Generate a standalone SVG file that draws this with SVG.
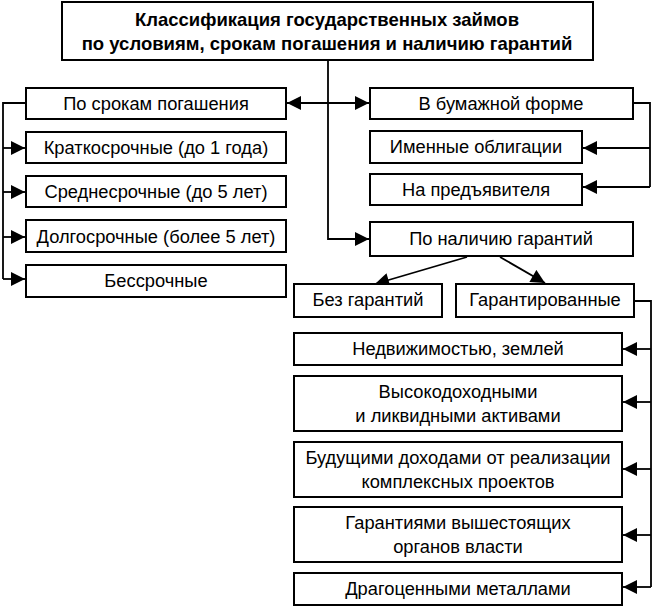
<svg xmlns="http://www.w3.org/2000/svg" width="653" height="607" viewBox="0 0 653 607">
<defs>
<style>
.box{fill:#fff;stroke:#000;stroke-width:2}
.t{font-family:"Liberation Sans",Arial,sans-serif;font-size:18.3px;fill:#000;text-anchor:middle}
.tb{font-family:"Liberation Sans",Arial,sans-serif;font-size:18.5px;font-weight:bold;fill:#000;text-anchor:middle}
.ln{fill:none;stroke:#000;stroke-width:1.8}
</style>
<marker id="ah" viewBox="0 0 10 10" refX="10" refY="5" markerWidth="15" markerHeight="14" markerUnits="userSpaceOnUse" orient="auto-start-reverse">
<path d="M0,0 L10,5 L0,10 z" fill="#000"/>
</marker>
</defs>
<rect width="653" height="607" fill="#fff"/>
<g id="connectors">
<path class="ln" d="M328,60 V239 H369" marker-end="url(#ah)"/>
<path class="ln" d="M287,103 H369" marker-start="url(#ah)" marker-end="url(#ah)"/>
<path class="ln" d="M26,103 H3 V279"/>
<path class="ln" d="M3,148 H25" marker-end="url(#ah)"/>
<path class="ln" d="M3,192 H25" marker-end="url(#ah)"/>
<path class="ln" d="M3,237 H25" marker-end="url(#ah)"/>
<path class="ln" d="M3,279 H25" marker-end="url(#ah)"/>
<path class="ln" d="M633,103 H650 V187"/>
<path class="ln" d="M650,148 H583" marker-end="url(#ah)"/>
<path class="ln" d="M650,187 H583" marker-end="url(#ah)"/>
<path class="ln" d="M467,257 L375,284" marker-end="url(#ah)"/>
<path class="ln" d="M500,257 L545,283" marker-end="url(#ah)"/>
<path class="ln" d="M634,301 H651 V587"/>
<path class="ln" d="M651,349 H623" marker-end="url(#ah)"/>
<path class="ln" d="M651,402 H623" marker-end="url(#ah)"/>
<path class="ln" d="M651,469 H623" marker-end="url(#ah)"/>
<path class="ln" d="M651,535 H623" marker-end="url(#ah)"/>
<path class="ln" d="M651,587 H623" marker-end="url(#ah)"/>
</g>
<g id="title"><rect class="box" x="62" y="2" width="531" height="58"/>
<text class="tb" x="327" y="26">Классификация государственных займов</text>
<text class="tb" x="327" y="50">по условиям, срокам погашения и наличию гарантий</text></g>
<g id="term"><rect class="box" x="26" y="88" width="260" height="31"/><text class="t" x="156" y="110">По срокам погашения</text></g>
<g id="short"><rect class="box" x="26" y="132" width="260" height="31"/><text class="t" x="156" y="154">Краткосрочные (до 1 года)</text></g>
<g id="mid"><rect class="box" x="26" y="176" width="260" height="31"/><text class="t" x="156" y="198">Среднесрочные (до 5 лет)</text></g>
<g id="long"><rect class="box" x="26" y="220" width="260" height="32"/><text class="t" x="156" y="243">Долгосрочные (более 5 лет)</text></g>
<g id="perp"><rect class="box" x="26" y="265" width="260" height="32"/><text class="t" x="156" y="287">Бессрочные</text></g>
<g id="paper"><rect class="box" x="370" y="88" width="263" height="31"/><text class="t" x="501" y="110">В бумажной форме</text></g>
<g id="named"><rect class="box" x="370" y="131" width="212" height="32"/><text class="t" x="476" y="153">Именные облигации</text></g>
<g id="bearer"><rect class="box" x="370" y="174" width="212" height="31"/><text class="t" x="476" y="196">На предъявителя</text></g>
<g id="guar"><rect class="box" x="370" y="222" width="263" height="34"/><text class="t" x="501" y="245">По наличию гарантий</text></g>
<g id="noguar"><rect class="box" x="294" y="284" width="148" height="33"/><text class="t" x="368" y="306">Без гарантий</text></g>
<g id="guaranteed"><rect class="box" x="456" y="284" width="178" height="33"/><text class="t" x="545" y="306">Гарантированные</text></g>
<g id="realty"><rect class="box" x="294" y="333" width="328" height="32"/><text class="t" x="458" y="355">Недвижимостью, землей</text></g>
<g id="assets"><rect class="box" x="294" y="376" width="328" height="55"/><text class="t" x="458" y="398">Высокодоходными</text><text class="t" x="458" y="422">и ликвидными активами</text></g>
<g id="income"><rect class="box" x="294" y="442" width="328" height="55"/><text class="t" x="458" y="464">Будущими доходами от реализации</text><text class="t" x="458" y="488">комплексных проектов</text></g>
<g id="authority"><rect class="box" x="294" y="507" width="328" height="55"/><text class="t" x="458" y="529">Гарантиями вышестоящих</text><text class="t" x="458" y="553">органов власти</text></g>
<g id="metals"><rect class="box" x="294" y="573" width="328" height="32"/><text class="t" x="458" y="595">Драгоценными металлами</text></g>
</svg>
